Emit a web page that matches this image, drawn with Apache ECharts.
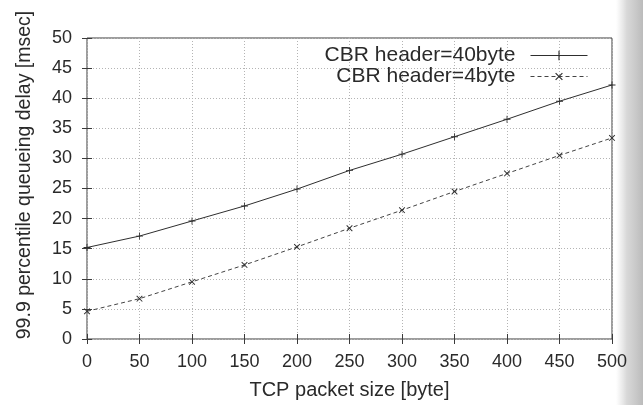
<!DOCTYPE html>
<html>
<head>
<meta charset="utf-8">
<script src="https://cdn.jsdelivr.net/npm/echarts@6/dist/echarts.min.js"></script>
<style>
  html, body { margin: 0; padding: 0; background: #fff; }
  #chart { width: 643px; height: 405px; }
</style>
</head>
<body>
<div id="chart"></div>
<script>
// tcp packet size on x, 99.9 percentile delay on y
var packetSize = [0, 50, 100, 150, 200, 250, 300, 350, 400, 450, 500]
var header40 = [15.2, 17.1, 19.6, 22.1, 24.9, 28.0, 30.7, 33.6, 36.5, 39.5, 42.2]
var header4 = [4.6, 6.7, 9.5, 12.3, 15.3, 18.4, 21.4, 24.5, 27.5, 30.5, 33.4]
var seriesNames = ['CBR header=40byte', 'CBR header=4byte']

var ink = '#3a3a3a'
var font = 'Liberation Sans, Arial, Helvetica, sans-serif'
var plusPath = 'path://M0,4.4H10V5.6H0Z M4.4,0H5.6V10H4.4Z'

function pairs (ys) {
  return packetSize.map(function (x, i) { return [x, ys[i]] })
}

var myChart = echarts.init(document.getElementById('chart'))
var option = {
  backgroundColor: '#fff',
  animation: false,
  grid: {
    left: 87, right: 31, top: 38, bottom: 66,
    show: true,
    borderColor: ink,
    borderWidth: 1
  },
  legend: {
    orient: 'vertical',
    right: 50,
    top: 40,
    align: 'right',
    itemWidth: 57,
    itemHeight: 12,
    itemGap: 0,
    lineStyle: { width: 1 },
    textStyle: { fontFamily: font, fontSize: 21, lineHeight: 21, color: '#2a2a2a', padding: [0, 10, 0, 0] },
    data: seriesNames
  },
  xAxis: [{
    type: 'value',
    min: 0, max: 500, interval: 50,
    name: 'TCP packet size [byte]',
    nameLocation: 'middle',
    nameGap: 41,
    nameTextStyle: { fontFamily: font, fontSize: 20, color: '#2a2a2a' },
    axisLine: { show: false },
    axisTick: { inside: true, length: 5, lineStyle: { color: ink } },
    axisLabel: { margin: 14, fontFamily: font, fontSize: 18, color: '#2a2a2a' },
    splitLine: { show: true, lineStyle: { color: '#b4b4b4', type: [1, 2], width: 1 } }
  }, {
    type: 'value',
    position: 'top',
    min: 0, max: 500, interval: 50,
    axisLine: { show: false },
    axisTick: { inside: true, length: 5, lineStyle: { color: ink } },
    axisLabel: { show: false },
    splitLine: { show: false }
  }],
  yAxis: [{
    type: 'value',
    min: 0, max: 50, interval: 5,
    axisLine: { show: false },
    axisTick: { inside: true, length: 5, lineStyle: { color: ink } },
    axisLabel: { margin: 15, fontFamily: font, fontSize: 18, color: '#2a2a2a' },
    splitLine: { show: true, lineStyle: { color: '#b4b4b4', type: [1, 2], width: 1 } }
  }, {
    type: 'value',
    position: 'right',
    min: 0, max: 50, interval: 5,
    axisLine: { show: false },
    axisTick: { inside: true, length: 5, lineStyle: { color: ink } },
    axisLabel: { show: false },
    splitLine: { show: false }
  }],
  graphic: [
    {
      // y axis title, rotated
      type: 'text',
      x: 25, y: 175,
      rotation: Math.PI / 2,
      style: {
        text: '99.9 percentile queueing delay [msec]',
        fontFamily: font, fontSize: 19.5, fill: '#2a2a2a',
        align: 'center', verticalAlign: 'middle'
      }
    },
    {
      // grey scan edge on the right
      type: 'rect',
      z: -1,
      shape: { x: 616, y: 0, width: 27, height: 405 },
      style: {
        fill: new echarts.graphic.LinearGradient(0, 0, 1, 0, [
          { offset: 0, color: 'rgba(200,200,200,0)' },
          { offset: 0.4, color: 'rgba(190,190,190,0.6)' },
          { offset: 1, color: 'rgba(175,175,175,0.85)' }
        ])
      }
    }
  ],
  series: [
    {
      name: seriesNames[0],
      type: 'line',
      data: pairs(header40),
      symbol: plusPath,
      symbolSize: 7,
      itemStyle: { color: '#2e2e2e' },
      lineStyle: { color: '#2e2e2e', width: 1 }
    },
    {
      name: seriesNames[1],
      type: 'line',
      data: pairs(header4),
      symbol: plusPath,
      symbolSize: 8,
      symbolRotate: 45,
      itemStyle: { color: '#2e2e2e' },
      lineStyle: { color: '#444', width: 1, type: [4, 3] }
    }
  ]
}
myChart.setOption(option)
</script>
</body>
</html>
